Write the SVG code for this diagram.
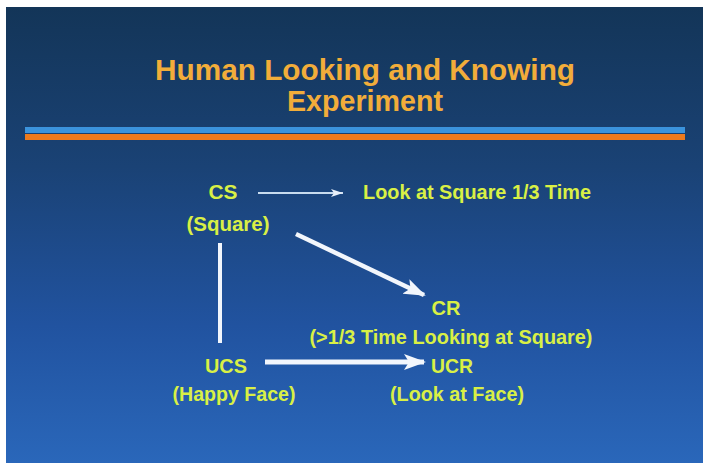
<svg xmlns="http://www.w3.org/2000/svg" width="704" height="463" viewBox="0 0 704 463">
<defs>
<linearGradient id="bg" x1="0" y1="0" x2="0" y2="1">
<stop offset="0" stop-color="#133558"/>
<stop offset="0.35" stop-color="#1a4275"/>
<stop offset="0.7" stop-color="#2153a0"/>
<stop offset="1" stop-color="#2a67ba"/>
</linearGradient>
<marker id="thin" viewBox="0 0 12 8" refX="12" refY="4" markerWidth="12" markerHeight="8" markerUnits="userSpaceOnUse" orient="auto">
<path d="M0,0 L12,4 L0,8 L3,4 Z" fill="#e8f0fa"/>
</marker>
<marker id="thick" viewBox="0 0 22 16" refX="20" refY="8" markerWidth="22" markerHeight="16" markerUnits="userSpaceOnUse" orient="auto">
<path d="M0,0 L22,8 L0,16 L5,8 Z" fill="#f2f6fc"/>
</marker>
<style>
.t{font-family:"Liberation Sans",Arial,sans-serif;font-weight:bold;fill:#d9f045;font-size:20px;text-anchor:middle}
.ti{font-family:"Liberation Sans",Arial,sans-serif;font-weight:bold;fill:#f2ad3a;font-size:30px;text-anchor:middle}
</style>
</defs>
<rect width="704" height="463" fill="#ffffff"/>
<rect x="6" y="7" width="697" height="456" fill="url(#bg)"/>
<g id="title">
<text class="ti" x="365" y="80" textLength="420" lengthAdjust="spacingAndGlyphs">Human Looking and Knowing</text>
<text class="ti" x="365" y="111" textLength="156" lengthAdjust="spacingAndGlyphs">Experiment</text>
</g>
<g id="rules">
<rect x="25" y="127" width="660" height="6" fill="#3b93dc"/>
<rect x="25" y="134" width="660" height="6" fill="#ee7a1c"/>
</g>
<g id="connectors">
<line x1="258" y1="193" x2="343" y2="193" stroke="#c8dcef" stroke-width="2" marker-end="url(#thin)"/>
<line x1="220" y1="243" x2="220" y2="343" stroke="#f2f6fc" stroke-width="4"/>
<line x1="296" y1="234" x2="424" y2="295" stroke="#f2f6fc" stroke-width="4.5" marker-end="url(#thick)"/>
<line x1="265" y1="362" x2="424" y2="362" stroke="#f2f6fc" stroke-width="5" marker-end="url(#thick)"/>
</g>
<g id="cs">
<text class="t" x="223" y="199" textLength="29" lengthAdjust="spacingAndGlyphs">CS</text>
<text class="t" x="228" y="231" textLength="83" lengthAdjust="spacingAndGlyphs">(Square)</text>
</g>
<g id="look">
<text class="t" x="477" y="199" textLength="228" lengthAdjust="spacingAndGlyphs">Look at Square 1/3 Time</text>
</g>
<g id="cr">
<text class="t" x="446" y="315" textLength="29" lengthAdjust="spacingAndGlyphs">CR</text>
<text class="t" x="451" y="344" textLength="283" lengthAdjust="spacingAndGlyphs">(&gt;1/3 Time Looking at Square)</text>
</g>
<g id="ucs">
<text class="t" x="226" y="373" textLength="42" lengthAdjust="spacingAndGlyphs">UCS</text>
<text class="t" x="234" y="401" textLength="123" lengthAdjust="spacingAndGlyphs">(Happy Face)</text>
</g>
<g id="ucr">
<text class="t" x="452" y="373" textLength="42" lengthAdjust="spacingAndGlyphs">UCR</text>
<text class="t" x="457" y="401" textLength="134" lengthAdjust="spacingAndGlyphs">(Look at Face)</text>
</g>
</svg>
